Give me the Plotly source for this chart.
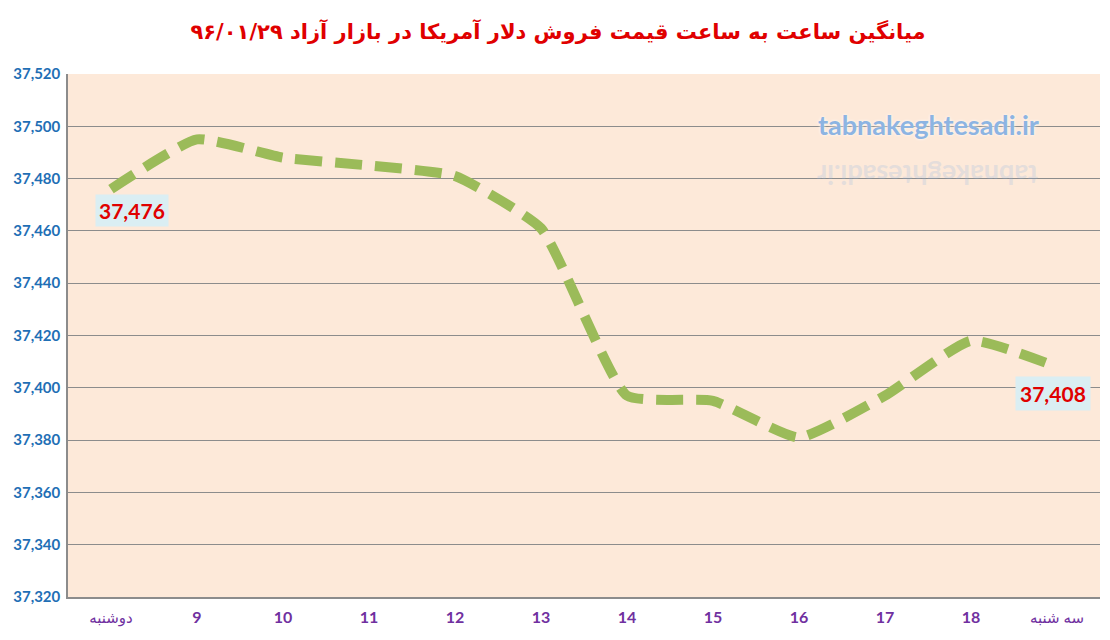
import plotly.graph_objects as go

categories = ["دوشنبه", "9", "10", "11", "12", "13", "14", "15", "16", "17", "18", "سه شنبه"]
prices = [37476, 37495, 37488, 37485, 37481, 37461, 37397, 37395, 37381, 37397, 37418, 37408]
y_ticks = list(range(37320, 37521, 20))
title_text = "میانگین ساعت به ساعت قیمت فروش دلار آمریکا در بازار آزاد ۹۶/۰۱/۲۹"
watermark = "tabnakeghtesadi.ir"

W, H = 1110, 640
OFF = 8  # page body margin
ML, MR, MT, MB = 68 - OFF, 10 + OFF, 74 - OFF, 43 + OFF

x_idx = list(range(len(categories)))

fig = go.Figure()
fig.add_trace(go.Scatter(
    x=x_idx, y=prices, mode="lines",
    line=dict(color="#9BBB59", width=10, dash="27px,13px", shape="spline", smoothing=0.45),
    hoverinfo="skip", showlegend=False,
))

tick_text = []
for c in categories:
    if c.isdigit():
        tick_text.append("<b>" + c + "</b>")
    else:
        tick_text.append("<span style='font-size:15px'>" + c + "</span>")

fig.update_layout(
    width=W, height=H,
    margin=dict(l=ML, r=MR, t=MT, b=MB, autoexpand=False),
    paper_bgcolor="white",
    plot_bgcolor="#FDE9D9",
    title=dict(text="<b>" + title_text + "</b>", x=(558 - OFF) / W, xanchor="center",
               y=1 - (32 - OFF) / H, yanchor="middle",
               font=dict(family="DejaVu Sans", size=21, color="#E00000")),
    xaxis=dict(
        tickmode="array", tickvals=x_idx, ticktext=tick_text,
        range=[-0.5, len(categories) - 0.5],
        showgrid=False, zeroline=False, automargin=False,
        showline=True, linecolor="#8c8c8c", linewidth=1.5,
        ticks="", ticklen=0, ticklabelstandoff=5,
        tickfont=dict(family="Lato, DejaVu Sans", size=16, color="#7030A0"),
    ),
    yaxis=dict(
        range=[y_ticks[0], y_ticks[-1]],
        tickmode="array", tickvals=y_ticks,
        ticktext=["<b>{:,}</b>".format(v) for v in y_ticks],
        showgrid=True, gridcolor="#8c8c8c", gridwidth=1,
        zeroline=False, automargin=False,
        showline=True, linecolor="#8c8c8c", linewidth=1.5,
        ticks="", ticklen=0, ticklabelstandoff=3,
        tickfont=dict(family="Lato, DejaVu Sans", size=15, color="#1F6FB5"),
    ),
)

# data labels
fig.add_annotation(x=0, y=prices[0], xref="x", yref="y", text="<b>{:,}</b>".format(prices[0]),
                   showarrow=False, xshift=21, yshift=-21,
                   font=dict(family="Lato, DejaVu Sans", size=21, color="#E00000"),
                   bgcolor="#DAEEF3", borderpad=3)
fig.add_annotation(x=len(prices) - 1, y=prices[-1], xref="x", yref="y", text="<b>{:,}</b>".format(prices[-1]),
                   showarrow=False, xshift=-4, yshift=-27,
                   font=dict(family="Lato, DejaVu Sans", size=21, color="#E00000"),
                   bgcolor="#DAEEF3", borderpad=4)

def px_to_paper(px, py):
    # px, py are window pixel coordinates
    fx, fy = px - OFF, py - OFF
    return (fx - ML) / (W - ML - MR), (H - fy - MB) / (H - MT - MB)

wx, wy = px_to_paper(928, 124)
fig.add_annotation(x=wx, y=wy, xref="paper", yref="paper", xanchor="center", yanchor="middle",
                   text="<b>" + watermark + "</b>", showarrow=False,
                   font=dict(family="Lato, DejaVu Sans", size=27, color="#8DB4E2",
                             shadow="0px 0px 3px #ffffff"))
rx, ry = px_to_paper(928, 176)
fig.add_annotation(x=rx, y=ry, xref="paper", yref="paper", xanchor="center", yanchor="middle",
                   text="<b>" + watermark + "</b>", showarrow=False, textangle=180, opacity=0.22,
                   font=dict(family="Lato, DejaVu Sans", size=27, color="#8DB4E2"))

fig.write_html("out.html")
